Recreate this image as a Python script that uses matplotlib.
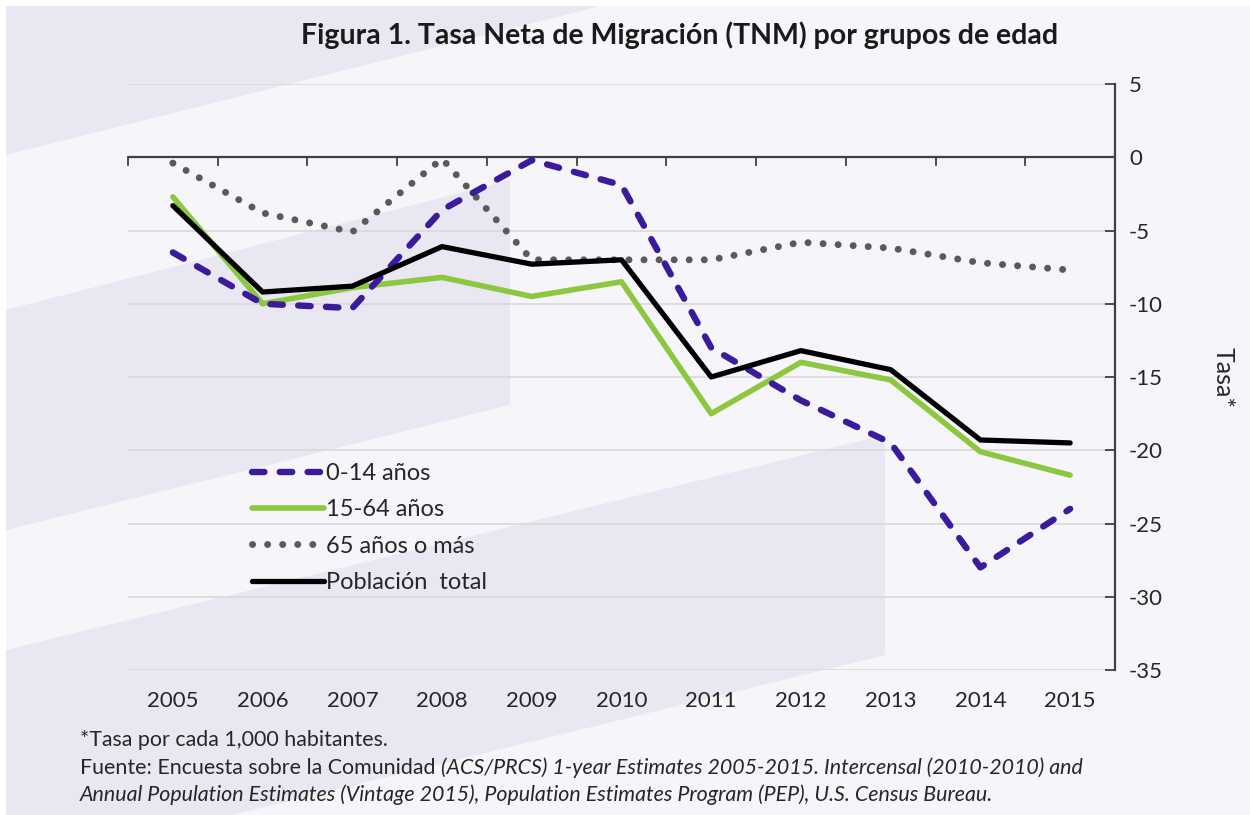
import matplotlib
matplotlib.use("Agg")
import matplotlib.pyplot as plt
from matplotlib.patches import Polygon, Rectangle

plt.rcParams['font.family'] = ['Lato', 'DejaVu Sans']

years = ['2005', '2006', '2007', '2008', '2009', '2010', '2011', '2012', '2013', '2014', '2015']
tnm_0_14 = [-6.5, -10.0, -10.3, -3.6, -0.2, -1.9, -13.0, -16.6, -19.5, -28.0, -24.0]
tnm_15_64 = [-2.7, -10.0, -8.9, -8.2, -9.5, -8.5, -17.5, -14.0, -15.2, -20.1, -21.7]
tnm_65 = [-0.4, -3.8, -5.1, -0.1, -7.0, -7.0, -7.0, -5.8, -6.2, -7.2, -7.7]
tnm_total = [-3.3, -9.2, -8.8, -6.1, -7.3, -7.0, -15.0, -13.2, -14.5, -19.3, -19.5]
labels = ['0-14 años', '15-64 años', '65 años o más', 'Población  total']
yticks = [5, 0, -5, -10, -15, -20, -25, -30, -35]

W, H = 1250, 815
fig = plt.figure(figsize=(W / 100, H / 100), dpi=100)
fig.patch.set_facecolor('white')

# decorative background (pixel coords)
bg = fig.add_axes([0, 0, 1, 1], zorder=-10)
bg.set_xlim(0, W)
bg.set_ylim(H, 0)
bg.axis('off')
light = '#F5F5FA'
dark = '#E8E7F2'
bg.add_patch(Rectangle((6, 6), W - 6, H - 6, facecolor=light, edgecolor='none'))
bg.add_patch(Polygon([(6, 6), (600, 6), (6, 155)], closed=True, facecolor=dark, edgecolor='none'))
bg.add_patch(Polygon([(6, 310), (510, 180), (510, 405), (6, 530)], closed=True, facecolor=dark, edgecolor='none'))
bg.add_patch(Polygon([(6, 650), (885, 435), (885, 655), (232, 815), (6, 815)], closed=True, facecolor=dark, edgecolor='none'))

left, right, top, bottom = 128, 1115, 84, 670
ax = fig.add_axes([left / W, (H - bottom) / H, (right - left) / W, (bottom - top) / H])
ax.set_facecolor('none')
x = list(range(len(years)))

ax.plot(x, tnm_0_14, color='#3B1A9E', lw=4.6, dashes=(1.95, 2.4), dash_capstyle='round',
        solid_joinstyle='round', label=labels[0], zorder=5)
ax.plot(x, tnm_15_64, color='#8DC63F', lw=4.0, solid_capstyle='round', label=labels[1], zorder=4)
ax.plot(x, tnm_65, color='#5A5A5A', lw=5.0, linestyle=(0, (0.01, 2.16)), dash_capstyle='round',
        label=labels[2], zorder=3)
ax.plot(x, tnm_total, color='black', lw=3.8, solid_capstyle='round', label=labels[3], zorder=6)

ax.set_xlim(-0.5, len(years) - 0.5)
ax.set_ylim(-35, 5)

# grid
for v in yticks:
    if v != 0:
        ax.axhline(v, color='#D9D9D9', lw=1.2, zorder=1)
ax.axhline(0, color='#404040', lw=1.6, zorder=2)
# x category boundary ticks hanging from y=0
for b in range(len(years) + 1):
    ax.plot([b - 0.5, b - 0.5], [0, -0.55], color='#404040', lw=1.3, zorder=2, clip_on=False)

for s in ['top', 'left', 'bottom']:
    ax.spines[s].set_visible(False)
ax.spines['right'].set_color('#404040')
ax.spines['right'].set_linewidth(1.6)
ax.yaxis.tick_right()
ax.set_yticks(yticks)
ax.set_yticklabels([str(v) for v in yticks])
ax.tick_params(axis='y', direction='in', length=7, width=1.3, color='#404040',
               labelsize=16, labelcolor='#262626', pad=10)
ax.set_xticks(x)
ax.set_xticklabels(years)
ax.tick_params(axis='x', length=0, labelsize=16, labelcolor='#262626', pad=15)

ax.yaxis.set_label_position('right')
ax.set_ylabel('Tasa*', rotation=-90, fontsize=18, color='#262626', labelpad=52)

leg = ax.legend(loc='upper left', bbox_to_anchor=(0.1135, 0.3735), frameon=False, fontsize=17,
                handlelength=3.05, handletextpad=0.08, labelspacing=0.65, borderpad=0)
for t in leg.get_texts():
    t.set_color('#262626')

fig.text(680 / W, 1 - 35 / H, 'Figura 1. Tasa Neta de Migración (TNM) por grupos de edad',
         ha='center', va='center', fontsize=20.5, fontweight='bold', color='#1a1a1a')

fs = 15.4
fig.text(80 / W, 1 - 740 / H, '*Tasa por cada 1,000 habitantes.', ha='left', va='center',
         fontsize=fs, color='#262626')
t1 = fig.text(80 / W, 1 - 768 / H, 'Fuente: Encuesta sobre la Comunidad ', ha='left', va='center',
              fontsize=fs, color='#262626')
fig.canvas.draw()
r = fig.canvas.get_renderer()
bb = t1.get_window_extent(renderer=r)
fig.text(bb.x1 / W, 1 - 768 / H,
         '(ACS/PRCS) 1-year Estimates 2005-2015. Intercensal (2010-2010) and',
         ha='left', va='center', fontsize=fs, style='italic', color='#262626')
fig.text(80 / W, 1 - 795 / H,
         'Annual Population Estimates (Vintage 2015), Population Estimates Program (PEP), U.S. Census Bureau.',
         ha='left', va='center', fontsize=fs, style='italic', color='#262626')

fig.savefig('out.png', dpi=100, facecolor=fig.get_facecolor())
